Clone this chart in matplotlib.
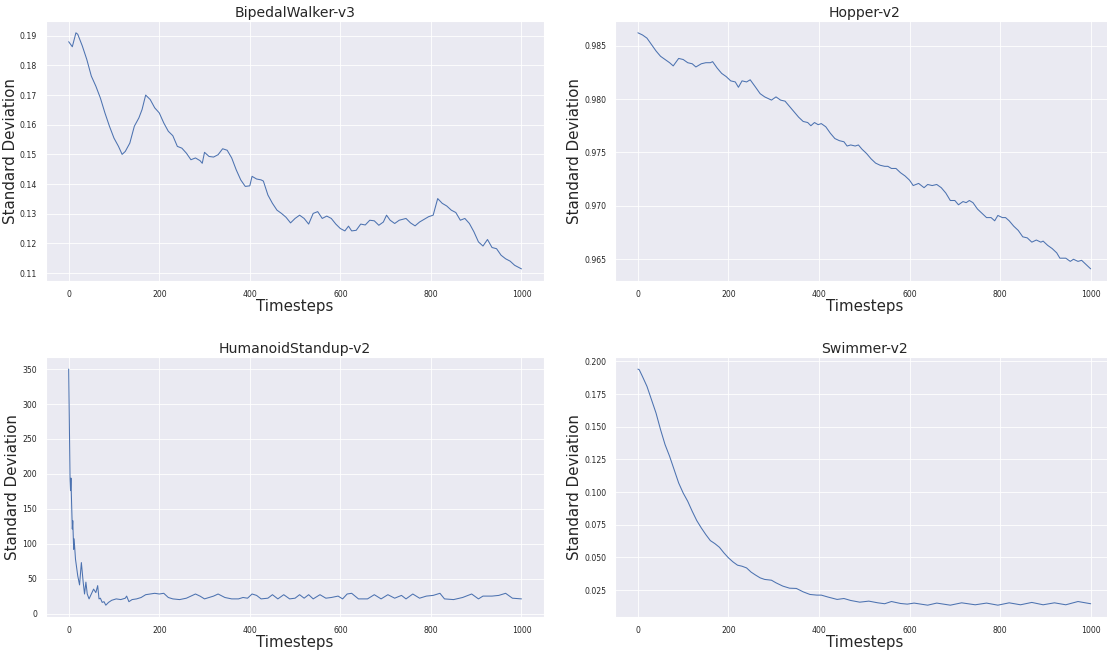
import matplotlib
matplotlib.use("Agg")
import matplotlib.pyplot as plt
import seaborn as sns

sns.set_style("darkgrid")
plt.rcParams['font.family'] = ['DejaVu Sans']
plt.rcParams['grid.linewidth'] = 0.6

# Policy standard deviation over training
bipedal_t = [0, 8, 16, 20, 30, 40, 50, 60, 70, 80, 90, 100, 110, 118, 125, 135, 145, 155, 162,
             170, 180, 190, 200, 210, 220, 230, 240, 250, 260, 270, 280, 290, 295, 300, 310,
             320, 330, 340, 350, 360, 370, 380, 390, 400, 405, 415, 425, 430, 440, 450, 460,
             470, 480, 490, 500, 510, 520, 530, 540, 550, 560, 570, 580, 590, 600, 610, 618,
             625, 635, 645, 655, 665, 675, 685, 695, 702, 710, 720, 730, 745, 755, 765, 775,
             785, 795, 805, 815, 825, 835, 845, 855, 865, 875, 885, 895, 905, 915, 925, 935,
             945, 955, 965, 975, 985, 1000]
bipedal_std = [0.1880, 0.1863, 0.1910, 0.1905, 0.1866, 0.1820, 0.1764, 0.1730, 0.1690, 0.1640,
               0.1595, 0.1555, 0.1527, 0.1500, 0.1510, 0.1538, 0.1595, 0.1623, 0.1651, 0.1700,
               0.1685, 0.1657, 0.1640, 0.1606, 0.1578, 0.1563, 0.1527, 0.1521, 0.1504, 0.1482,
               0.1488, 0.1479, 0.1470, 0.1507, 0.1493, 0.1491, 0.1499, 0.1519, 0.1514, 0.1488,
               0.1448, 0.1414, 0.1392, 0.1394, 0.1426, 0.1417, 0.1414, 0.1410, 0.1363, 0.1335,
               0.1312, 0.1301, 0.1288, 0.1269, 0.1284, 0.1295, 0.1284, 0.1265, 0.1301, 0.1307,
               0.1284, 0.1292, 0.1284, 0.1265, 0.1250, 0.1242, 0.1258, 0.1242, 0.1244, 0.1265,
               0.1262, 0.1278, 0.1276, 0.1261, 0.1272, 0.1295, 0.1278, 0.1267, 0.1278, 0.1284,
               0.1269, 0.1259, 0.1272, 0.1281, 0.1290, 0.1295, 0.1351, 0.1335, 0.1326, 0.1312,
               0.1304, 0.1278, 0.1284, 0.1267, 0.1239, 0.1205, 0.1191, 0.1213, 0.1186, 0.1182,
               0.1160, 0.1148, 0.1140, 0.1126, 0.1114]

hopper_t = [0, 10, 20, 30, 40, 50, 60, 70, 78, 90, 100, 110, 120, 128, 140, 150, 160, 165, 175,
            185, 195, 205, 215, 222, 230, 240, 248, 260, 270, 280, 295, 305, 315, 325, 335, 345,
            355, 365, 375, 382, 390, 398, 405, 415, 425, 435, 445, 455, 462, 470, 480, 487, 495,
            505, 515, 525, 535, 545, 552, 560, 570, 580, 590, 600, 608, 620, 632, 640, 650, 660,
            670, 680, 690, 700, 708, 718, 725, 732, 740, 750, 760, 770, 780, 788, 795, 805, 812,
            820, 830, 840, 850, 860, 870, 880, 890, 895, 905, 915, 925, 932, 945, 955, 962, 972,
            980, 990, 1000]
hopper_std = [0.9862, 0.9860, 0.9857, 0.9851, 0.9845, 0.9840, 0.9837, 0.9834, 0.9831, 0.9838,
              0.9837, 0.9834, 0.9833, 0.9830, 0.9833, 0.9834, 0.9834, 0.9835, 0.9829, 0.9824,
              0.9821, 0.9817, 0.9816, 0.9811, 0.9817, 0.9816, 0.9818, 0.9811, 0.9805, 0.9802,
              0.9799, 0.9802, 0.9799, 0.9798, 0.9793, 0.9788, 0.9783, 0.9779, 0.9778, 0.9775,
              0.9778, 0.9776, 0.9777, 0.9774, 0.9768, 0.9763, 0.9761, 0.9760, 0.9756, 0.9757,
              0.9756, 0.9757, 0.9753, 0.9749, 0.9744, 0.9740, 0.9738, 0.9737, 0.9737, 0.9735,
              0.9735, 0.9731, 0.9728, 0.9724, 0.9719, 0.9721, 0.9717, 0.9720, 0.9719, 0.9720,
              0.9717, 0.9712, 0.9705, 0.9705, 0.9701, 0.9704, 0.9703, 0.9705, 0.9703, 0.9697,
              0.9693, 0.9689, 0.9689, 0.9686, 0.9691, 0.9689, 0.9689, 0.9686, 0.9681, 0.9677,
              0.9671, 0.9670, 0.9666, 0.9668, 0.9666, 0.9667, 0.9663, 0.9660, 0.9656, 0.9651,
              0.9651, 0.9648, 0.9650, 0.9648, 0.9649, 0.9645, 0.9641]

humanoid_t = [0, 3, 4, 5, 6, 8, 9, 11, 12, 15, 20, 24, 28, 32, 35, 38, 41, 45, 50, 55, 60, 64,
              67, 70, 74, 78, 82, 88, 95, 105, 115, 125, 128, 133, 140, 150, 160, 170, 180, 190,
              200, 210, 220, 230, 245, 260, 270, 280, 290, 300, 310, 320, 330, 345, 360, 375,
              385, 395, 405, 415, 425, 440, 450, 462, 475, 488, 500, 510, 520, 530, 540, 555,
              568, 580, 595, 605, 615, 625, 640, 660, 675, 690, 705, 720, 735, 745, 760, 775,
              790, 805, 820, 830, 850, 870, 890, 905, 915, 935, 950, 965, 980, 1000]
humanoid_std = [350, 192, 176, 194, 168, 121, 133, 92, 107, 78, 54, 41, 73, 45, 28, 45, 28, 21,
                28, 35, 30, 40, 21, 22, 16, 17, 12, 16, 19, 21, 20, 22, 25, 17, 20, 21, 23, 27,
                28, 29, 28, 29, 23, 21, 20, 22, 25, 28, 25, 21, 23, 25, 28, 23, 21, 21, 23, 22,
                28, 26, 21, 22, 27, 21, 27, 21, 22, 27, 22, 27, 21, 27, 22, 23, 25, 21, 28, 29,
                21, 21, 27, 21, 27, 22, 26, 21, 28, 22, 25, 26, 29, 21, 20, 23, 28, 21, 25, 25,
                26, 29, 22, 21]

swimmer_t = [0, 3, 10, 20, 30, 40, 50, 60, 70, 80, 90, 100, 110, 120, 130, 140, 150, 160, 170,
             180, 190, 200, 210, 220, 230, 240, 250, 260, 270, 280, 295, 305, 320, 335, 350,
             365, 380, 395, 405, 420, 440, 455, 470, 490, 510, 530, 545, 560, 580, 595, 610,
             640, 660, 690, 715, 745, 770, 795, 820, 845, 870, 895, 920, 945, 972, 1000]
swimmer_std = [0.1941, 0.1936, 0.1885, 0.1809, 0.1707, 0.1605, 0.1478, 0.1363, 0.1274, 0.1172,
               0.1070, 0.0993, 0.0930, 0.0853, 0.0782, 0.0726, 0.0675, 0.0629, 0.0606, 0.0578,
               0.0535, 0.0497, 0.0466, 0.0441, 0.0433, 0.0420, 0.0388, 0.0365, 0.0344, 0.0332,
               0.0326, 0.0306, 0.0281, 0.0265, 0.0263, 0.0237, 0.0217, 0.0212, 0.0212, 0.0197,
               0.0179, 0.0186, 0.0171, 0.0158, 0.0166, 0.0153, 0.0146, 0.0163, 0.0148, 0.0143,
               0.0151, 0.0135, 0.0151, 0.0135, 0.0153, 0.0138, 0.0151, 0.0135, 0.0153, 0.0138,
               0.0156, 0.0138, 0.0153, 0.0138, 0.0163, 0.0146]

envs = ['BipedalWalker-v3', 'Hopper-v2', 'HumanoidStandup-v2', 'Swimmer-v2']
series = [(bipedal_t, bipedal_std), (hopper_t, hopper_std),
          (humanoid_t, humanoid_std), (swimmer_t, swimmer_std)]

fig = plt.figure(figsize=(11.07, 6.5), dpi=100)

# axes placed by hand to follow the reference layout (right column runs off the edge)
w, h = 0.4499, 0.3995
positions = [
    [0.0416, 0.5682, w, h],
    [0.5558, 0.5682, w, h],
    [0.0416, 0.0508, w, h],
    [0.5558, 0.0508, w, h],
]

for pos, name, (t, std) in zip(positions, envs, series):
    ax = fig.add_axes(pos)
    ax.plot(t, std, color='#4C72B0', linewidth=0.75)
    ax.grid(True, color='white', linewidth=0.6)
    ax.set_title(name, fontsize=10.1, pad=3)
    ax.set_xlabel('Timesteps', fontsize=10.8, labelpad=0)
    ax.set_ylabel('Standard Deviation', fontsize=10.9, labelpad=1.5)
    ax.tick_params(labelsize=5.6, pad=3)
    ax.set_xticks([0, 200, 400, 600, 800, 1000])

fig.savefig('out.png', dpi=100, facecolor='white')
